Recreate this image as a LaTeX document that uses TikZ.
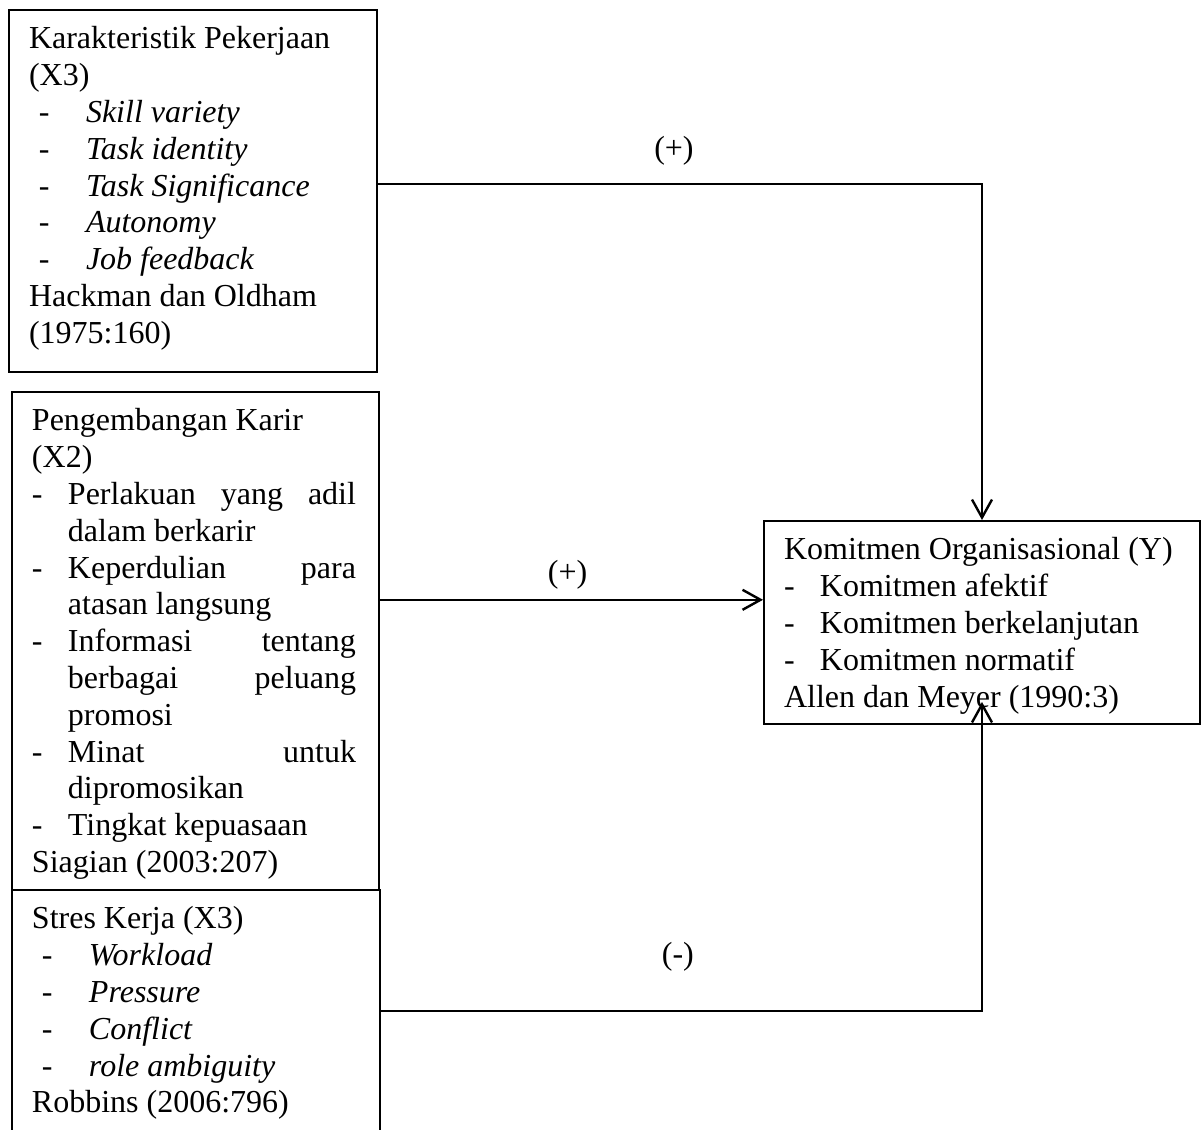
\documentclass[tikz,border=0pt]{standalone}
\usepackage{fontspec}
\setmainfont{Liberation Serif}
\usetikzlibrary{arrows.meta}
\tikzstyle{box}=[draw, line width=1pt, anchor=north west, inner xsep=10pt, inner ysep=6.6pt]
\tikzstyle{link}=[-{Straight Barb[length=9pt,width=10pt]}, line width=1.2pt]
\tikzstyle{sign}=[inner sep=0pt]
\newcommand{\ditem}[1]{\hspace*{5pt}\makebox[23.5pt][l]{-}\textit{#1}}
\newcommand{\dline}[1]{\makebox[18pt][l]{-}#1}
\newcommand{\dcont}[1]{\makebox[18pt][l]{}#1}
\newcommand{\dfill}[1]{\makebox[144pt][s]{#1}}

\begin{document}
\begin{tikzpicture}[x=0.5pt, y=-0.5pt, font=\fontsize{16pt}{18.4pt}\selectfont]
    \clip (0,0) rectangle (1201,1130);
    % variabel bebas
    \node[box] (kp) at (8,9) {\parbox[c][167.8pt][t]{164pt}{\strut
        Karakteristik Pekerjaan\\
        (X3)\\
        \ditem{Skill variety}\\
        \ditem{Task identity}\\
        \ditem{Task Significance}\\
        \ditem{Autonomy}\\
        \ditem{Job feedback}\\
        Hackman dan Oldham\\
        (1975:160)}};
    \node[box] (kk) at (11,391) {\parbox[c][235.8pt][t]{163.5pt}{\strut
        Pengembangan Karir\\
        (X2)\\
        \dline{\dfill{Perlakuan yang adil}}\\
        \dcont{dalam berkarir}\\
        \dline{\dfill{Keperdulian para}}\\
        \dcont{atasan langsung}\\
        \dline{\dfill{Informasi tentang}}\\
        \dcont{\dfill{berbagai peluang}}\\
        \dcont{promosi}\\
        \dline{\dfill{Minat untuk}}\\
        \dcont{dipromosikan}\\
        \dline{Tingkat kepuasaan}\\
        Siagian (2003:207)}};
    \node[box] (sk) at (11,889) {\parbox[c][142pt][t]{164pt}{\strut
        Stres Kerja (X3)\\
        \ditem{Workload}\\
        \ditem{Pressure}\\
        \ditem{Conflict}\\
        \ditem{role ambiguity}\\
        Robbins (2006:796)}};
    % variabel terikat
    \node[box] (ky) at (763,520) {\parbox[c][88.3pt][t]{198pt}{\strut
        Komitmen Organisasional (Y)\\
        \dline{Komitmen afektif}\\
        \dline{Komitmen berkelanjutan}\\
        \dline{Komitmen normatif}\\
        Allen dan Meyer (1990:3)}};
    % hubungan
    \draw[link] ([yshift=3.5pt]kp.east) -| (ky.north)
        node[sign, pos=0.245, yshift=16.5pt] {(+)};
    \draw[link] ([yshift=20.6pt]kk.east) -- ([yshift=20.6pt]kk.east -| ky.west)
        node[sign, pos=0.49, yshift=12.5pt] {(+)};
    \draw[link] ([yshift=-61pt]sk.north east) -| ([yshift=11.5pt]ky.south)
        node[sign, pos=0.247, yshift=27pt] {(-)};
\end{tikzpicture}
\end{document}
